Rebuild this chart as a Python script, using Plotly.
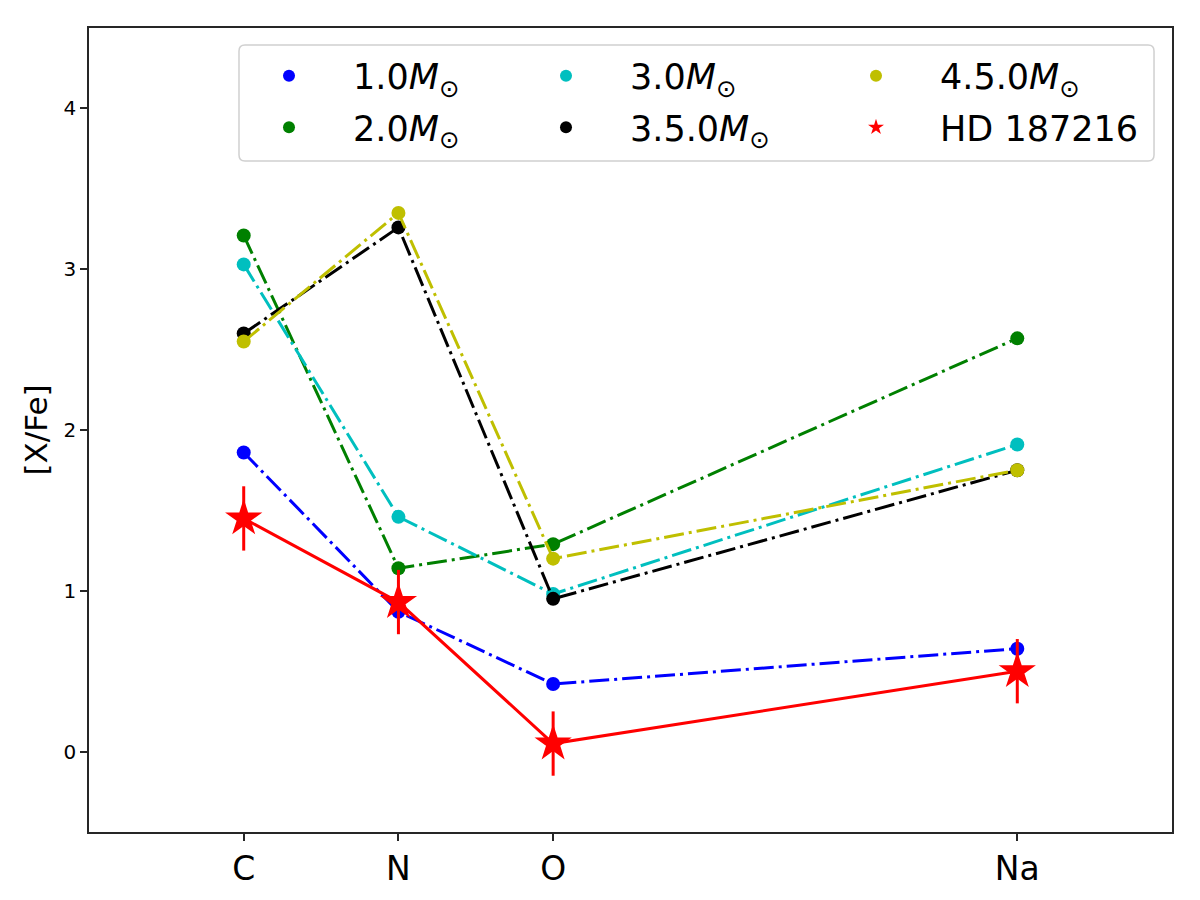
import plotly.graph_objects as go

elements = ["C", "N", "O", "Na"]
atomic_numbers = [6, 7, 8, 11]

labels = ["1.0<i>M</i><sub>⊙</sub>", "2.0<i>M</i><sub>⊙</sub>", "3.0<i>M</i><sub>⊙</sub>",
          "3.5.0<i>M</i><sub>⊙</sub>", "4.5.0<i>M</i><sub>⊙</sub>"]
m10 = [1.86, 0.87, 0.42, 0.64]
m20 = [3.21, 1.14, 1.29, 2.57]
m30 = [3.03, 1.46, 0.98, 1.91]
m35 = [2.60, 3.26, 0.95, 1.75]
m45 = [2.55, 3.35, 1.20, 1.75]
colors = ["#0000ff", "#008000", "#00bfbf", "#000000", "#bfbf00"]
legend_ids = ["legend", "legend", "legend2", "legend2", "legend3"]

hd_label = "HD 187216"
hd_values = [1.45, 0.93, 0.05, 0.50]
hd_err = [0.2, 0.2, 0.2, 0.2]

FONT = "DejaVu Sans"
DASHDOT = "20px,5px,3px,5px"

fig = go.Figure()
models = [m10, m20, m30, m35, m45]
for name, vals, col, lg in zip(labels, models, colors, legend_ids):
    fig.add_trace(go.Scatter(x=atomic_numbers, y=vals, mode="lines",
                             line=dict(color=col, width=3, dash=DASHDOT),
                             showlegend=False, hoverinfo="skip"))
    fig.add_trace(go.Scatter(x=atomic_numbers, y=vals, mode="markers", name=name,
                             marker=dict(color=col, size=14, line=dict(width=0)),
                             legend=lg, legendgroup=name))

fig.add_trace(go.Scatter(x=atomic_numbers, y=hd_values, mode="lines",
                         line=dict(color="#ff0000", width=3), showlegend=False))
fig.add_trace(go.Scatter(x=atomic_numbers, y=hd_values, mode="markers", name=hd_label,
                         marker=dict(color="#ff0000", size=28, symbol="star", line=dict(width=0)),
                         error_y=dict(type="data", array=hd_err, color="#ff0000", thickness=3, width=0),
                         legend="legend3", legendgroup=hd_label))

# legend frame (rounded)
x0, x1, y0, y1 = 0.1385, 0.9834, 0.8346, 0.9789
rx, ry = 6 / 1083, 6 / 804
path = (f"M {x0+rx},{y1} L {x1-rx},{y1} Q {x1},{y1} {x1},{y1-ry} L {x1},{y0+ry} "
        f"Q {x1},{y0} {x1-rx},{y0} L {x0+rx},{y0} Q {x0},{y0} {x0},{y0+ry} "
        f"L {x0},{y1-ry} Q {x0},{y1} {x0+rx},{y1} Z")
fig.add_shape(type="path", path=path, xref="paper", yref="paper",
              line=dict(color="#d0d0d0", width=1.5), fillcolor="rgba(255,255,255,0.8)",
              layer="below")

IW = 118
leg_common = dict(orientation="v", xanchor="left", yanchor="top", bgcolor="rgba(0,0,0,0)",
                  borderwidth=0, font=dict(family=FONT, size=35, color="black"),
                  itemsizing="constant", tracegroupgap=3, itemwidth=IW)
ytop = 0.977
fig.update_layout(
    width=1192, height=892,
    margin=dict(l=81, r=28, t=20, b=68),
    paper_bgcolor="white", plot_bgcolor="white",
    font=dict(family=FONT, color="black"),
    legend=dict(x=(353 - IW - 10 - 89) / 1083, y=ytop, **leg_common),
    legend2=dict(x=(630 - IW - 10 - 89) / 1083, y=ytop, **leg_common),
    legend3=dict(x=(940 - IW - 10 - 89) / 1083, y=ytop, **leg_common),
    xaxis=dict(range=[5, 12], tickvals=atomic_numbers, ticktext=elements,
               showgrid=False, zeroline=False, showline=True, mirror=True,
               linecolor="#262626", linewidth=1.7, ticks="outside", ticklen=7,
               tickwidth=1.6, tickcolor="#262626",
               tickfont=dict(family=FONT, size=33, color="black")),
    yaxis=dict(range=[-0.5, 4.5], tickvals=[0, 1, 2, 3, 4],
               showgrid=False, zeroline=False, showline=True, mirror=True,
               linecolor="#262626", linewidth=1.7, ticks="outside", ticklen=7,
               tickwidth=1.6, tickcolor="#262626",
               tickfont=dict(family=FONT, size=20, color="black"),
               title=dict(text="[X/Fe]", font=dict(family=FONT, size=31, color="black"),
                          standoff=7)),
)

fig.write_html("out.html")
